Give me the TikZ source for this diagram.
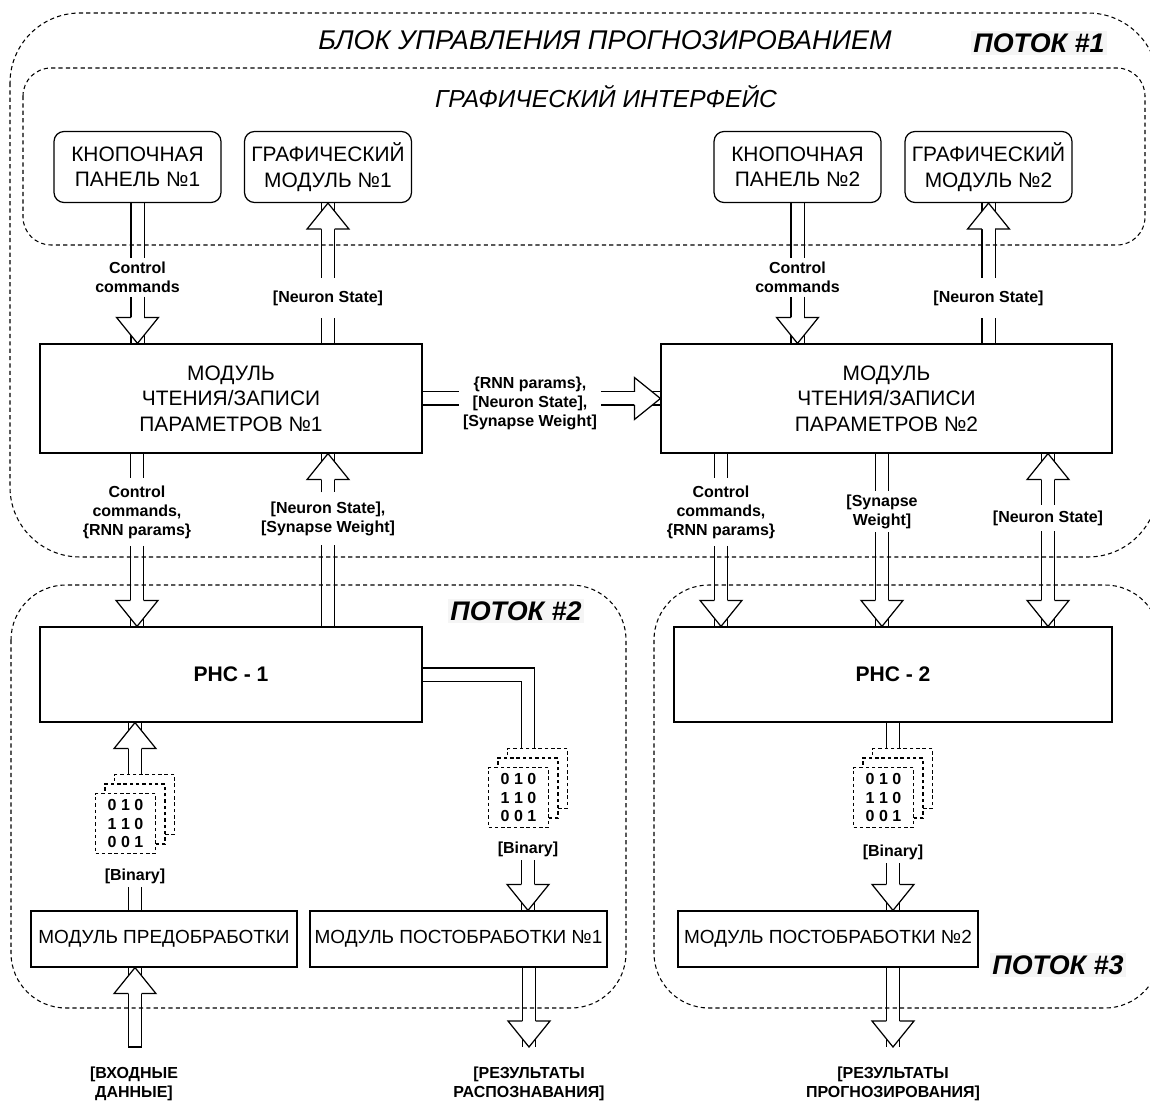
\documentclass[tikz,border=0pt]{standalone}
\usepackage{fontspec}
\setmainfont{Liberation Sans}
\usetikzlibrary{positioning,calc}
\pgfdeclarelayer{bg}
\pgfsetlayers{bg,main}
\tikzset{
  box/.style={draw,line width=0.7pt,align=center,font=\fontsize{11.9}{14.5}\selectfont},
  ui/.style={box,rounded corners=0.2cm,minimum width=3.34cm,minimum height=1.42cm},
  modbox/.style={box,minimum height=1.12cm,inner sep=1pt,font=\fontsize{10.8}{12.8}\selectfont},
  rnn/.style={box,minimum height=1.9cm,font=\bfseries\fontsize{12}{14}\selectfont},
  lbl/.style={align=center,inner sep=2pt,font=\bfseries\fontsize{9.1}{10.8}\selectfont},
  shaft/.style={double,double distance=0.24cm,line width=0.7pt},
  frame/.style={draw,line width=0.6pt,dash pattern=on 2.4pt off 1.8pt},
  bits/.style={draw,fill=white,line width=0.7pt,dash pattern=on 2pt off 1.6pt,minimum size=1.2cm,inner sep=0pt,align=center,font=\bfseries\fontsize{9.1}{10.5}\selectfont},
  thread/.style={fill=black!4,inner sep=1.5pt,font=\bfseries\itshape\fontsize{15.3}{18}\selectfont},
  head/.pic={\path[draw,fill=white,line width=0.7pt] (-6.6,-26) -- (-21,-26) -- (0,0) -- (21,-26) -- (6.6,-26);}
}

\begin{document}
\begin{tikzpicture}[x=0.02cm,y=-0.02cm]
  \useasboundingbox (0,0) rectangle (1150,1101);
  \clip (0,0) rectangle (1150,1101);

  % titles
  \node[font=\itshape\fontsize{15.4}{18}\selectfont] (ttl) at (605,40) {БЛОК УПРАВЛЕНИЯ ПРОГНОЗИРОВАНИЕМ};
  \node[font=\itshape\fontsize{14}{16}\selectfont] (gui) at (606,97) {ГРАФИЧЕСКИЙ ИНТЕРФЕЙС};
  \node[thread] (th1) at (1039,43) {ПОТОК \#1};
  \node[thread] (th2) at (516,611) {ПОТОК \#2};
  \node[thread] (th3) at (1058,965) {ПОТОК \#3};

  % blocks
  \node[ui] (kp1) at (137.5,167) {КНОПОЧНАЯ\\ПАНЕЛЬ №1};
  \node[ui] (gm1) at (328,167) {ГРАФИЧЕСКИЙ\\МОДУЛЬ №1};
  \node[ui] (kp2) at (797.5,167) {КНОПОЧНАЯ\\ПАНЕЛЬ №2};
  \node[ui] (gm2) at (988.5,167) {ГРАФИЧЕСКИЙ\\МОДУЛЬ №2};
  \node[box,minimum width=7.64cm,minimum height=2.18cm] (m1) at (231,398.5) {МОДУЛЬ\\ЧТЕНИЯ/ЗАПИСИ\\ПАРАМЕТРОВ №1};
  \node[box,minimum width=9.02cm,minimum height=2.18cm] (m2) at (886.5,398.5) {МОДУЛЬ\\ЧТЕНИЯ/ЗАПИСИ\\ПАРАМЕТРОВ №2};
  \node[rnn,minimum width=7.64cm] (rnn1) at (231,674.5) {РНС - 1};
  \node[rnn,minimum width=8.76cm] (rnn2) at (893,674.5) {РНС - 2};
  \node[modbox,minimum width=5.32cm] (pre) at (164,939) {МОДУЛЬ ПРЕДОБРАБОТКИ};
  \node[modbox,minimum width=5.94cm] (post1) at (458.5,939) {МОДУЛЬ ПОСТОБРАБОТКИ №1};
  \node[modbox,minimum width=6cm] (post2) at (828,939) {МОДУЛЬ ПОСТОБРАБОТКИ №2};

  % binary stacks
  \foreach \s/\x/\y in {a/135/814,b/528/788,c/893/788}{
    \node[bits] (\s3) at (\x+9.5,\y-9.5) {};
    \node[bits] (\s2) at (\x,\y) {};
    \node[bits] (\s1) at (\x-9.5,\y+9.5) {0 1 0\\1 1 0\\0 0 1};
  }

  % labels
  \node[lbl] (cc1) at (137.5,277.5) {Control\\commands};
  \node[lbl,inner ysep=7pt] (ns1) at (328,298) {[Neuron State]};
  \node[lbl] (cc2) at (797.5,277.5) {Control\\commands};
  \node[lbl,inner ysep=7pt] (ns2) at (988.5,298) {[Neuron State]};
  \node[lbl] (par) at (530,403) {\{RNN params\},\\{}[Neuron State],\\{}[Synapse Weight]};
  \node[lbl,inner ysep=4pt] (ccp1) at (137,512) {Control\\commands,\\\{RNN params\}};
  \node[lbl,inner ysep=5pt] (nsw1) at (328,518.5) {[Neuron State],\\{}[Synapse Weight]};
  \node[lbl,inner ysep=4pt] (ccp2) at (721,512) {Control\\commands,\\\{RNN params\}};
  \node[lbl] (sw2) at (882,511.5) {[Synapse\\Weight]};
  \node[lbl,inner ysep=3pt] (ns3) at (1048,518) {[Neuron State]};
  \node[lbl] (bin1) at (135,876) {[Binary]};
  \node[lbl] (bin2) at (528,849) {[Binary]};
  \node[lbl] (bin3) at (893,852) {[Binary]};
  \node[lbl] (inl) at (134,1084) {[ВХОДНЫЕ\\ДАННЫЕ]};
  \node[lbl] (out1) at (529,1084) {[РЕЗУЛЬТАТЫ\\РАСПОЗНАВАНИЯ]};
  \node[lbl] (out2) at (893,1084) {[РЕЗУЛЬТАТЫ\\ПРОГНОЗИРОВАНИЯ]};
  \coordinate (inp) at (135,1047);
  \coordinate (o1) at (529,1047);
  \coordinate (o2) at (893,1047);

  % shafts
  \begin{pgfonlayer}{bg}
    \draw[shaft] (kp1.south) -- (cc1.north) (cc1.south) -- (m1.north -| cc1);
    \draw[shaft] (m1.north -| ns1) -- (ns1.south) (ns1.north) -- (gm1.south);
    \draw[shaft] (kp2.south) -- (cc2.north) (cc2.south) -- (m2.north -| cc2);
    \draw[shaft] (m2.north -| ns2) -- (ns2.south) (ns2.north) -- (gm2.south);
    \draw[shaft] (m1.east) -- (m1.east -| par.west) (m2.west -| par.east) -- (m2.west);
    \draw[shaft] (m1.south -| ccp1) -- (ccp1.north) (ccp1.south) -- (rnn1.north -| ccp1);
    \draw[shaft] (rnn1.north -| nsw1) -- (nsw1.south) (nsw1.north) -- (m1.south -| nsw1);
    \draw[shaft] (m2.south -| ccp2) -- (ccp2.north) (ccp2.south) -- (rnn2.north -| ccp2);
    \draw[shaft] (m2.south -| sw2) -- (sw2.north) (sw2.south) -- (rnn2.north -| sw2);
    \draw[shaft] (m2.south -| ns3) -- (ns3.north) (ns3.south) -- (rnn2.north -| ns3);
    \draw[shaft] (rnn1.east) -| (b2 |- b3.north);
    \draw[shaft] (bin2.south) -- (post1.north -| bin2);
    \draw[shaft] (rnn2.south -| c2) -- (c2 |- c3.north);
    \draw[shaft] (bin3.south) -- (post2.north -| bin3);
    \draw[shaft] (pre.north -| bin1) -- (bin1.south);
    \draw[shaft] (a2 |- a3.north) -- (rnn1.south -| a2);
    \draw[shaft] (inp) -- (pre.south -| inp);
    \draw[shaft] (post1.south -| o1) -- (o1);
    \draw[shaft] (post2.south -| o2) -- (o2);
  \end{pgfonlayer}
  \draw[line width=0.7pt] (inp) +(-6.6,0) -- +(6.6,0);

  % heads
  \pic at (m1.north -| cc1) {head};
  \pic[rotate=180] at (gm1.south) {head};
  \pic at (m2.north -| cc2) {head};
  \pic[rotate=180] at (gm2.south) {head};
  \pic[rotate=90] at (m2.west) {head};
  \pic at (rnn1.north -| ccp1) {head};
  \pic[rotate=180] at (m1.south -| nsw1) {head};
  \pic at (rnn2.north -| ccp2) {head};
  \pic at (rnn2.north -| sw2) {head};
  \pic[rotate=180] at (m2.south -| ns3) {head};
  \pic at (rnn2.north -| ns3) {head};
  \pic at (post1.north -| bin2) {head};
  \pic at (post2.north -| bin3) {head};
  \pic[rotate=180] at (rnn1.south -| a2) {head};
  \pic[rotate=180] at (pre.south -| inp) {head};
  \pic at (o1) {head};
  \pic at (o2) {head};

  % dashed groups
  \draw[frame,rounded corners=1.4cm] (10,13) rectangle (1158,557);
  \draw[frame,rounded corners=0.56cm] (23,68) rectangle (1145,245);
  \draw[frame,rounded corners=1.1cm] (11,585) rectangle (626,1008);
  \draw[frame,rounded corners=1.1cm] (654,585) rectangle (1160,1008);
\end{tikzpicture}
\end{document}
